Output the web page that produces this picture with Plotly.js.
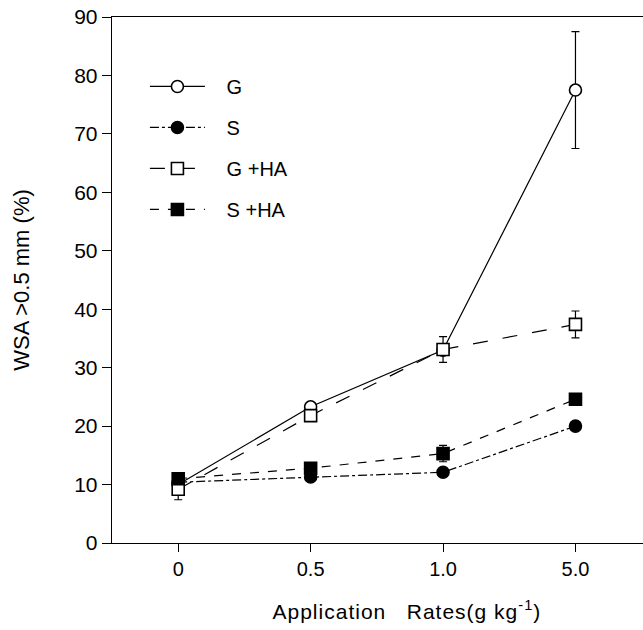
<!DOCTYPE html>
<html>
<head>
<meta charset="utf-8">
<script src="https://cdn.plot.ly/plotly-3.0.1.min.js"></script>
<style>html,body{margin:0;padding:0;background:#fff;}#chart{width:643px;height:630px;}
#chart .annotation-text{letter-spacing:1px;}</style>
</head>
<body>
<div id="chart"></div>
<script>
const categories = ["0", "0.5", "1.0", "5.0"];
const seriesNames = ["G", "S", "G +HA", "S +HA"];
const G = [10.0, 23.3, 33.0, 77.5];
const G_err = [0, 0, 0, 10.0];
const S = [10.4, 11.3, 12.1, 20.0];
const S_err = [0, 0, 0, 0];
const GHA = [9.2, 21.8, 33.1, 37.4];
const GHA_err = [1.8, 0, 2.2, 2.3];
const SHA = [11.0, 12.8, 15.3, 24.6];
const SHA_err = [0, 0, 1.4, 0];
const yTicks = [0, 10, 20, 30, 40, 50, 60, 70, 80, 90];
const xTitle = "Application\u00a0\u00a0 Rates(g kg<sup>-1</sup>)";
const yTitle = "WSA >0.5 mm (%)";

const font = "Liberation Sans, Arial, Helvetica, sans-serif";
const pad = "\u00a0\u00a0\u00a0";
function trace(name, y, err, symbol, fill, dash, group) {
  return {
    type: "scatter", mode: "lines+markers", name: pad + name, legendgroup: group,
    x: categories, y: y,
    line: {color: "#000", width: 1.2, dash: dash},
    marker: {symbol: symbol, size: 12, color: fill, line: {color: "#000", width: 1.6}},
    error_y: {type: "data", array: err, visible: true, color: "#000", thickness: 1.2, width: 4}
  };
}
const data = [
  trace(seriesNames[0], G, G_err, "circle", "#fff", "solid", "a"),
  trace(seriesNames[1], S, S_err, "circle", "#000", "dashdot", "b"),
  trace(seriesNames[2], GHA, GHA_err, "square", "#fff", "longdash", "c"),
  trace(seriesNames[3], SHA, SHA_err, "square", "#000", "dash", "d")
];

const layout = {
  width: 643, height: 630,
  margin: {l: 112, r: 0, t: 17, b: 87},
  paper_bgcolor: "#fff", plot_bgcolor: "#fff",
  font: {family: font, color: "#000", size: 21},
  showlegend: true,
  legend: {x: 0.062, y: 0.905, xanchor: "left", yanchor: "top", bgcolor: "rgba(0,0,0,0)",
           font: {family: font, size: 20, color: "#000"}, tracegroupgap: 12, itemwidth: 55,
           traceorder: "grouped"},
  xaxis: {type: "category", range: [-0.5, 3.51], showline: true, mirror: true, linecolor: "#000", linewidth: 1.3,
          ticks: "outside", ticklen: 8, tickcolor: "#000", showgrid: false, zeroline: false,
          tickfont: {family: font, size: 20}},
  yaxis: {range: [0, 90], tickvals: yTicks, showline: true, mirror: false, linecolor: "#000", linewidth: 1.3,
          ticks: "outside", ticklen: 9, tickcolor: "#000", showgrid: false, zeroline: false,
          tickfont: {family: font, size: 21},
          title: {text: yTitle, font: {family: font, size: 22}, standoff: 38}},
  annotations: [{text: xTitle, xref: "paper", yref: "paper", x: 0.556, y: -0.128,
                 xanchor: "center", yanchor: "middle", showarrow: false,
                 font: {family: font, size: 21, color: "#000"}}]
};
Plotly.newPlot("chart", data, layout, {displayModeBar: false, staticPlot: true});
</script>
</body>
</html>
